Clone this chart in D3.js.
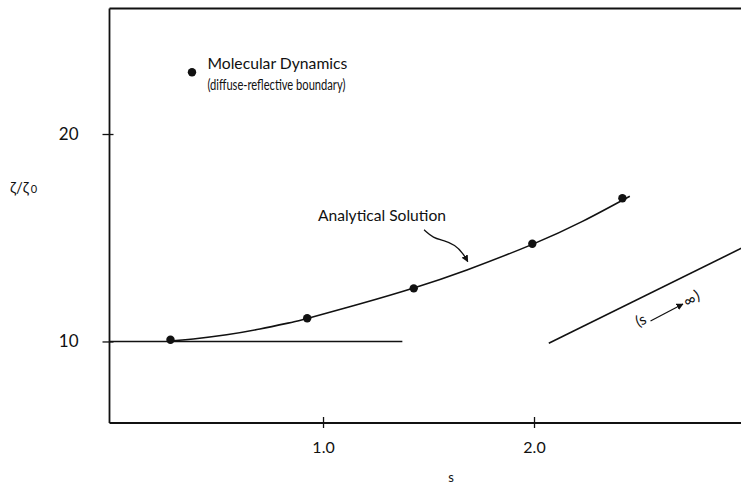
<!DOCTYPE html>
<html>
<head>
<meta charset="utf-8">
<script src="https://cdn.jsdelivr.net/npm/d3@7"></script>
<style>
  body { margin: 0; background: #fff; }
  svg { display: block; }
  text { font-family: Lato, "Open Sans", sans-serif; fill: #111; }
</style>
</head>
<body>
<svg id="chart" width="741" height="484"></svg>
<script>
// Molecular dynamics points (s, zeta/zeta0)
var mdS    = [0.277, 0.925, 1.430, 1.992, 2.419];
var mdZeta = [10.08, 11.12, 12.56, 14.71, 16.90];

// Analytical solution
var anS    = [0.27, 0.385, 0.543, 0.701, 0.859, 0.925, 1.177, 1.430, 1.682, 1.992, 2.232, 2.454];
var anZeta = [10.02, 10.12, 10.32, 10.60, 10.94, 11.11, 11.82, 12.58, 13.45, 14.68, 15.80, 17.00];

// Small-s limit (horizontal) and large-s asymptote
var limS    = [-0.012, 1.376];
var limZeta = [10, 10];
var asyS    = [2.070, 2.99];
var asyZeta = [9.91, 14.53];

// Pointer arrow for "Analytical Solution"
var ptrS    = [1.479, 1.523, 1.570, 1.626, 1.665, 1.686];
var ptrZeta = [15.38, 14.98, 14.88, 14.66, 14.23, 13.85];

var xTicks = [1.0, 2.0];
var xTickLabels = ["1.0", "2.0"];
var yTicks = [10, 20];
var yTickLabels = ["10", "20"];

var svg = d3.select("#chart");
var width = +svg.attr("width"), height = +svg.attr("height");

svg.append("rect").attr("width", width).attr("height", height).attr("fill", "#fff");

var x = d3.scaleLinear().domain([-0.012, 3]).range([109.5, 745]);
var y = d3.scaleLinear().domain([6.07, 26.05]).range([423, 8.5]);

var ink = "#111";

// top edge of the frame (no right edge)
svg.append("line")
    .attr("x1", x(-0.012)).attr("x2", x(3))
    .attr("y1", y(26.05)).attr("y2", y(26.05))
    .attr("stroke", ink).attr("stroke-width", 1.8);

// x axis
var xAxis = svg.append("g")
    .attr("transform", "translate(0," + y(6.07) + ")")
    .call(d3.axisBottom(x).tickValues(xTicks)
        .tickFormat(function(d, i) { return xTickLabels[i]; })
        .tickSize(5).tickPadding(14));
xAxis.select(".domain").attr("stroke", ink).attr("stroke-width", 1.8)
    .attr("d", "M" + x(-0.012) + ",0H" + x(3));
xAxis.selectAll(".tick line").attr("y1", -6).attr("y2", 5).attr("stroke", ink).attr("stroke-width", 1.3);
xAxis.selectAll(".tick text").attr("font-size", 16).attr("font-family", "Lato, sans-serif").attr("fill", ink);

// y axis
var yAxis = svg.append("g")
    .attr("transform", "translate(" + x(-0.012) + ",0)")
    .call(d3.axisLeft(y).tickValues(yTicks)
        .tickFormat(function(d, i) { return yTickLabels[i]; })
        .tickSize(7).tickPadding(24));
yAxis.select(".domain").attr("stroke", ink).attr("stroke-width", 1.8)
    .attr("d", "M0," + y(26.05) + "V" + y(6.07));
yAxis.selectAll(".tick line").attr("x1", 4).attr("x2", -7).attr("stroke", ink).attr("stroke-width", 1.3);
yAxis.selectAll(".tick text").attr("font-size", 17).attr("font-family", "Lato, sans-serif").attr("fill", ink);

// axis titles
svg.append("text").attr("x", 451).attr("y", 482)
    .attr("text-anchor", "middle").attr("font-size", 13).text("s");
var yt = svg.append("text").attr("x", 10).attr("y", 193).attr("font-size", 15);
yt.append("tspan").text("ζ/ζ");
yt.append("tspan").attr("font-size", 11).attr("dx", 2).text("0");

var line = d3.line().x(function(d) { return x(d[0]); }).y(function(d) { return y(d[1]); });

// s -> 0 limit
svg.append("path").datum(d3.zip(limS, limZeta))
    .attr("d", line).attr("fill", "none").attr("stroke", ink).attr("stroke-width", 1.5);

// analytical curve
svg.append("path").datum(d3.zip(anS, anZeta))
    .attr("d", line.curve(d3.curveNatural)).attr("fill", "none")
    .attr("stroke", ink).attr("stroke-width", 1.6);
line.curve(d3.curveLinear);

// asymptote
svg.append("path").datum(d3.zip(asyS, asyZeta))
    .attr("d", line).attr("fill", "none").attr("stroke", ink).attr("stroke-width", 1.6);

// MD points
svg.selectAll("circle.md").data(d3.zip(mdS, mdZeta)).enter().append("circle")
    .attr("class", "md")
    .attr("cx", function(d) { return x(d[0]); })
    .attr("cy", function(d) { return y(d[1]); })
    .attr("r", 4.2).attr("fill", ink);

// legend
svg.append("circle").attr("cx", x(0.379)).attr("cy", y(22.98)).attr("r", 4.2).attr("fill", ink);
svg.append("text").attr("x", x(0.452)).attr("y", y(23.11)).attr("font-size", 15)
    .attr("textLength", 140).attr("lengthAdjust", "spacingAndGlyphs").text("Molecular Dynamics");
svg.append("text").attr("x", x(0.452)).attr("y", y(22.14)).attr("font-size", 15.5)
    .attr("textLength", 138).attr("lengthAdjust", "spacingAndGlyphs").text("(diffuse-reflective boundary)");

// "Analytical Solution" label and pointer
svg.append("text").attr("x", x(0.976)).attr("y", y(15.82)).attr("font-size", 15)
    .attr("textLength", 128).attr("lengthAdjust", "spacingAndGlyphs").text("Analytical Solution");
var defs = svg.append("defs");
defs.append("marker").attr("id", "head").attr("viewBox", "0 0 10 10")
    .attr("refX", 9).attr("refY", 5).attr("markerWidth", 7).attr("markerHeight", 7)
    .attr("orient", "auto").attr("markerUnits", "userSpaceOnUse")
    .append("path").attr("d", "M0,0L10,5L0,10z").attr("fill", ink);
svg.append("path").datum(d3.zip(ptrS, ptrZeta))
    .attr("d", line.curve(d3.curveBasis)).attr("fill", "none")
    .attr("stroke", ink).attr("stroke-width", 1.3).attr("marker-end", "url(#head)");
line.curve(d3.curveLinear);

// (s -> inf) label along asymptote
var g = svg.append("g")
    .attr("transform", "translate(" + x(2.525) + "," + y(10.84) + ") rotate(-24)");
g.append("text").attr("x", 3).attr("y", 0).attr("text-anchor", "end").attr("font-size", 15).text("(s");
g.append("line").attr("x1", 6.5).attr("x2", 43).attr("y1", -0.5).attr("y2", -2.8)
    .attr("stroke", ink).attr("stroke-width", 1.2).attr("marker-end", "url(#head)");
g.append("text").attr("x", 50.8).attr("y", 2).attr("text-anchor", "middle")
    .attr("font-size", 16).text("\u221E");
g.append("text").attr("x", 57.5).attr("y", 0).attr("font-size", 15).text(")");
</script>
</body>
</html>
